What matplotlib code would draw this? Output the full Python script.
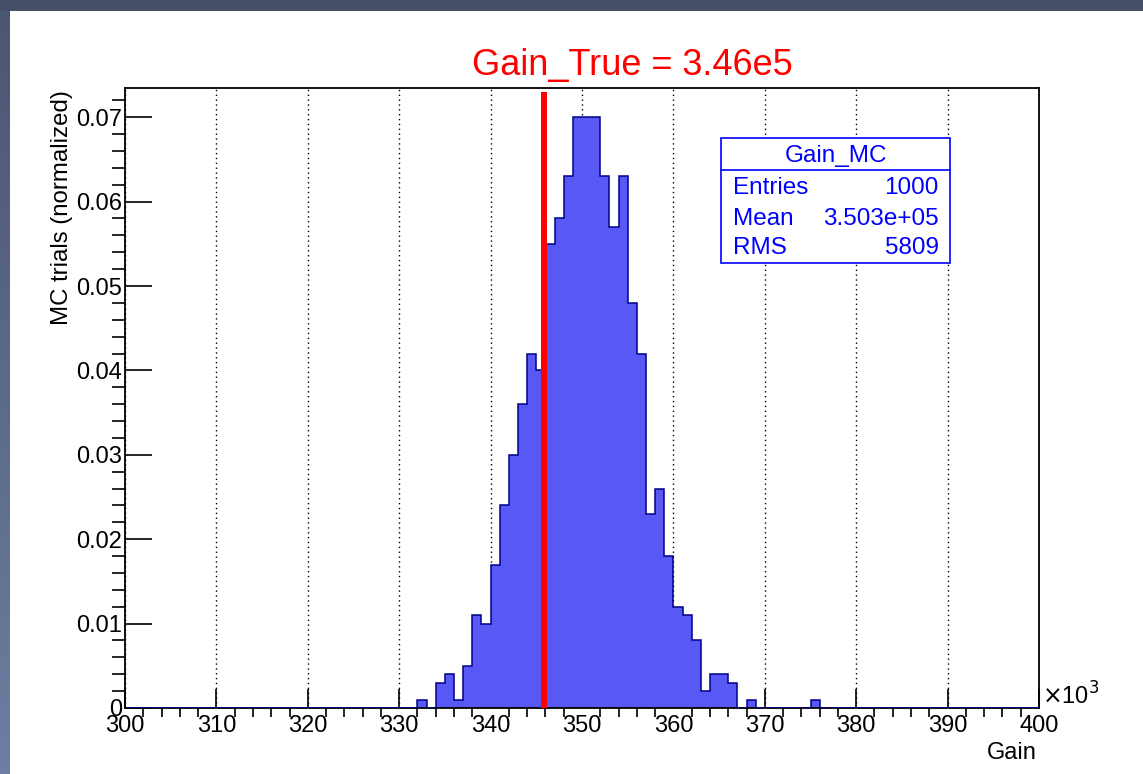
import numpy as np
import matplotlib
matplotlib.use('Agg')
import matplotlib.pyplot as plt
from matplotlib.ticker import MultipleLocator, FuncFormatter
from matplotlib.colors import LinearSegmentedColormap

plt.rcParams['font.family'] = ['Liberation Sans', 'DejaVu Sans']

# histogram content: 100 bins of width 1 (x10^3) from 300 to 400
bin_lo = [332, 334, 335, 336, 337, 338, 339, 340, 341, 342, 343, 344, 345,
          346, 347, 348, 349, 350, 351, 352, 353, 354, 355, 356, 357, 358,
          359, 360, 361, 362, 363, 364, 365, 366, 368, 375]
counts = [1, 3, 4, 1, 5, 11, 10, 17, 24, 30, 36, 42, 40,
          55, 58, 63, 70, 70, 70, 63, 57, 63, 48, 42, 23, 26,
          18, 12, 11, 8, 2, 4, 4, 3, 1, 1]
n_entries = 1000
gain_true = 346
stat_rows = [('Entries', '1000'), ('Mean', '3.503e+05'), ('RMS', '5809')]

edges = np.arange(300, 401, 1)
vals = np.zeros(len(edges) - 1)
for lo, c in zip(bin_lo, counts):
    vals[lo - 300] = c / n_entries

W, H = 1143, 774
fig = plt.figure(figsize=(W / 100, H / 100), dpi=100)
fig.patch.set_facecolor('white')

# dark window frame (top bar + left gradient bar)
fig.patches.append(plt.Rectangle((0, 1 - 11 / H), 1, 11 / H, transform=fig.transFigure,
                                 facecolor='#465069', edgecolor='none', zorder=0))
bax = fig.add_axes([0, 0, 10 / W, 1 - 11 / H])
cm = LinearSegmentedColormap.from_list('bar', ['#4b5672', '#6e7da0'])
bax.imshow(np.linspace(0, 1, 100).reshape(-1, 1), aspect='auto', cmap=cm)
bax.axis('off')

ax = fig.add_axes([125 / W, 1 - 708 / H, (1039 - 125) / W, (708 - 88) / H])
ax.stairs(vals, edges, fill=True, facecolor='#5858f4', edgecolor='none', zorder=2)
ax.stairs(vals, edges, color='#00008b', lw=1.1, baseline=0, zorder=3)
ax.vlines(gain_true - 0.2, 0, 0.073, color='red', lw=4.3, zorder=4)

ax.set_xlim(300, 400)
ax.set_ylim(0, 0.07346)
ax.xaxis.set_major_locator(MultipleLocator(10))
ax.xaxis.set_minor_locator(MultipleLocator(2))
ax.yaxis.set_major_locator(MultipleLocator(0.01))
ax.yaxis.set_minor_locator(MultipleLocator(0.002))
ax.yaxis.set_major_formatter(FuncFormatter(lambda v, p: '0' if abs(v) < 1e-9 else f'{v:.2f}'))
ax.grid(axis='x', which='major', color='black', linestyle=(0, (1, 2.5)), lw=1, zorder=1)

ax.tick_params(direction='in', labelsize=17, width=1.2, colors='black')
ax.tick_params(axis='x', which='major', length=13.7, pad=5)
ax.tick_params(axis='x', which='minor', length=6.5, width=1.2)
ax.tick_params(axis='y', which='major', length=19.4, pad=2)
ax.tick_params(axis='y', which='minor', length=9.7, width=1.2)
for s in ax.spines.values():
    s.set_linewidth(1.3)

fig.text(632 / W, 1 - 65 / H, 'Gain_True = 3.46e5', color='red', fontsize=26,
         ha='center', va='center')
fig.text(62 / W, 1 - 90 / H, 'MC trials (normalized)', rotation=90, fontsize=17.3,
         ha='center', va='top')
fig.text(1037 / W, 1 - 759 / H, 'Gain', fontsize=17, ha='right', va='baseline')
fig.text(1042 / W, 1 - 705 / H, r'$\times$10$^{3}$', fontsize=17, ha='left', va='baseline')

# stats box
x0, x1, y0, y1, ysep = 721, 950, 138, 263, 170
fig.patches.append(plt.Rectangle((x0 / W, 1 - y1 / H), (x1 - x0) / W, (y1 - y0) / H,
                                 transform=fig.transFigure, facecolor='white',
                                 edgecolor='#0000ff', lw=1.2, zorder=5))
fig.add_artist(plt.Line2D([x0 / W, x1 / W], [1 - ysep / H] * 2, color='#0000ff', lw=1.2, zorder=6))
fig.text((x0 + x1) / 2 / W, 1 - 162 / H, 'Gain_MC', color='#0000ff', fontsize=17.5,
         ha='center', va='baseline', zorder=7)
for (lab, val), yb in zip(stat_rows, [194, 225.5, 253.5]):
    fig.text(733 / W, 1 - yb / H, lab, color='#0000ff', fontsize=17.5, ha='left', va='baseline', zorder=7)
    fig.text(939 / W, 1 - yb / H, val, color='#0000ff', fontsize=17.5, ha='right', va='baseline', zorder=7)

fig.savefig('out.png', dpi=100)
